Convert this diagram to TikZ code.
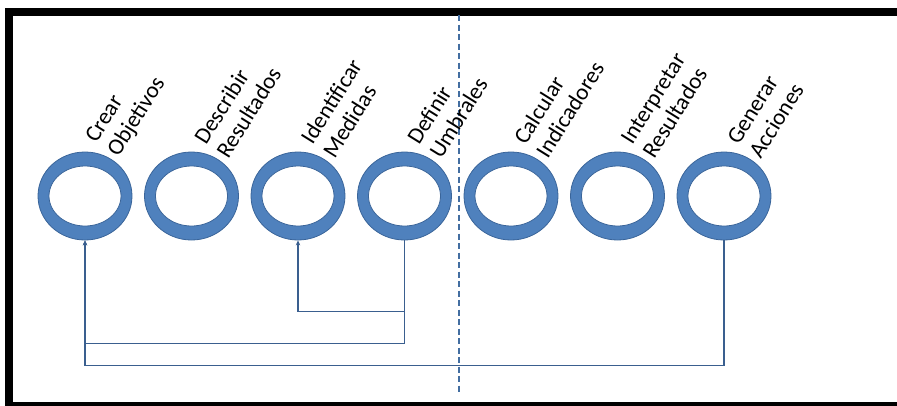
\documentclass[tikz,border=0pt]{standalone}
\usepackage{fontspec}
\setmainfont{Carlito}
\usepackage{tikz}
\usetikzlibrary{positioning, calc, shapes.geometric, arrows.meta}
\definecolor{ringblue}{HTML}{4F81BD}
\definecolor{ringedge}{HTML}{3A659A}
\definecolor{linkblue}{HTML}{3A5F8F}
\tikzset{
  ring/.style={ellipse, fill=ringblue, draw=ringedge, line width=0.8pt,
    minimum width=94pt, minimum height=88pt, inner sep=0pt,
    path picture={\fill[white, draw=ringedge, line width=0.8pt]
      (path picture bounding box.center) ellipse (36pt and 30pt);}},
  steplabel/.style={rotate=58, anchor=south west, inner sep=0pt, align=left,
    font=\fontsize{23}{26}\selectfont},
  link/.style={draw=linkblue, line width=1.8pt},
  linktip/.style={-{Stealth[length=5pt,width=4.5pt]}}
}

\begin{document}
\begin{tikzpicture}[x=1pt,y=-1pt, node distance=11.7pt]
    \useasboundingbox (0,0) rectangle (897,405);
    \clip (0,0) rectangle (897,405);

    % Draw the frame
    \draw[line width=8pt] (9,11.5) rectangle (905,405.5);

    % Draw the dashed divider
    \coordinate (divtop) at (459,15);
    \coordinate (divbot) at (459,392);
    \draw[draw=ringblue!85!black, line width=2pt, dash pattern=on 6pt off 3.5pt] (divtop) -- (divbot);

    % Draw the rings
    \node[ring] (c1) at (85,196) {};
    \node[ring, right=of c1] (c2) {};
    \node[ring, right=of c2] (c3) {};
    \node[ring, right=of c3] (c4) {};
    \node[ring, right=of c4] (c5) {};
    \node[ring, right=of c5] (c6) {};
    \node[ring, right=of c6] (c7) {};

    % Label the rings
    \node[steplabel] (t1) at ($(c1.center)+(37,-36)$) {Crear\\Objetivos};
    \node[steplabel] (t2) at ($(c2.center)+(37,-36)$) {Describir\\Resultados};
    \node[steplabel] (t3) at ($(c3.center)+(37,-36)$) {Identificar\\Medidas};
    \node[steplabel] (t4) at ($(c4.center)+(37,-36)$) {Definir\\Umbrales};
    \node[steplabel] (t5) at ($(c5.center)+(37,-36)$) {Calcular\\Indicadores};
    \node[steplabel] (t6) at ($(c6.center)+(37,-36)$) {Interpretar\\Resultados};
    \node[steplabel] (t7) at ($(c7.center)+(37,-36)$) {Generar\\Acciones};

    % Draw the feedback loops
    \draw[link, linktip] (c4.south) -- ++(0,71) -| (c3.south);
    \draw[link, linktip] (c4.south) -- ++(0,103) -| (c1.south);
    \draw[link, linktip] (c7.south) -- ++(0,125) -| (c1.south);
\end{tikzpicture}
\end{document}
